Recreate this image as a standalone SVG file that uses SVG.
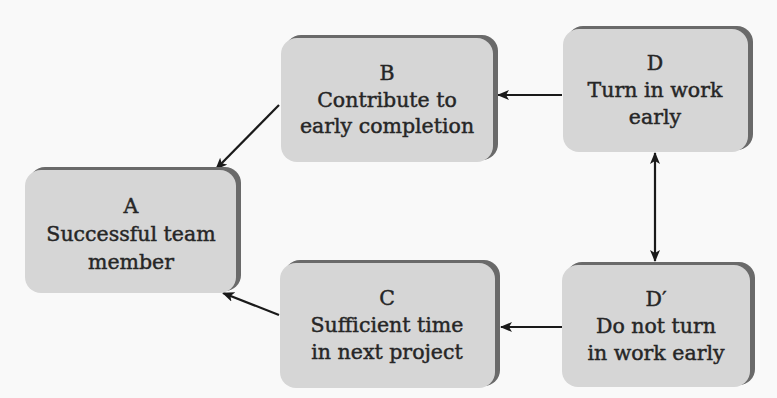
<svg xmlns="http://www.w3.org/2000/svg" width="777" height="398" viewBox="0 0 777 398">
  <defs>
    <marker id="arrow" viewBox="0 0 12 10" refX="11" refY="5" markerWidth="12" markerHeight="10" markerUnits="userSpaceOnUse" orient="auto-start-reverse">
      <path d="M0,0 L12,5 L0,10 L3,5 Z" fill="#1a1a1a"/>
    </marker>
  </defs>
  <style>
    .bg { fill: #f9f9f9; }
    .shade { fill: #6a6a6a; }
    .box { fill: #d6d6d6; }
    .label { font-family: "DejaVu Serif", "Liberation Serif", serif; font-size: 20.5px; fill: #262626; stroke: #262626; stroke-width: 0.45; text-anchor: middle; }
    .link { stroke: #1a1a1a; stroke-width: 2.2; fill: none; }
  </style>
  <rect class="bg" x="0" y="0" width="777" height="398"/>

  <g id="connectors">
    <line class="link" x1="279" y1="105" x2="216" y2="169" marker-end="url(#arrow)"/>
    <line class="link" x1="562" y1="95" x2="498" y2="95" marker-end="url(#arrow)"/>
    <line class="link" x1="655" y1="153" x2="655" y2="261" marker-start="url(#arrow)" marker-end="url(#arrow)"/>
    <line class="link" x1="279" y1="315" x2="223" y2="293" marker-end="url(#arrow)"/>
    <line class="link" x1="562" y1="327" x2="501" y2="327" marker-end="url(#arrow)"/>
  </g>

  <g id="nodeA">
    <rect class="shade" x="29" y="167" width="212" height="124" rx="16"/>
    <rect class="box" x="25" y="170" width="211" height="123" rx="16"/>
    <text class="label" x="131" y="213">A</text>
    <text class="label" x="131" y="241">Successful team</text>
    <text class="label" x="131" y="269">member</text>
  </g>

  <g id="nodeB">
    <rect class="shade" x="285" y="35" width="213" height="125" rx="16"/>
    <rect class="box" x="281" y="38" width="212" height="124" rx="16"/>
    <text class="label" x="387" y="80">B</text>
    <text class="label" x="387" y="107">Contribute to</text>
    <text class="label" x="387" y="133">early completion</text>
  </g>

  <g id="nodeD">
    <rect class="shade" x="567" y="26" width="186" height="124" rx="16"/>
    <rect class="box" x="563" y="29" width="185" height="123" rx="16"/>
    <text class="label" x="655" y="70">D</text>
    <text class="label" x="655" y="97">Turn in work</text>
    <text class="label" x="655" y="124">early</text>
  </g>

  <g id="nodeC">
    <rect class="shade" x="284" y="260" width="216" height="126" rx="16"/>
    <rect class="box" x="280" y="263" width="215" height="125" rx="16"/>
    <text class="label" x="387" y="305">C</text>
    <text class="label" x="387" y="332">Sufficient time</text>
    <text class="label" x="387" y="359">in next project</text>
  </g>

  <g id="nodeDprime">
    <rect class="shade" x="566" y="262" width="189" height="123" rx="16"/>
    <rect class="box" x="562" y="265" width="188" height="122" rx="16"/>
    <text class="label" x="656" y="306">D′</text>
    <text class="label" x="656" y="333">Do not turn</text>
    <text class="label" x="656" y="360">in work early</text>
  </g>
</svg>
